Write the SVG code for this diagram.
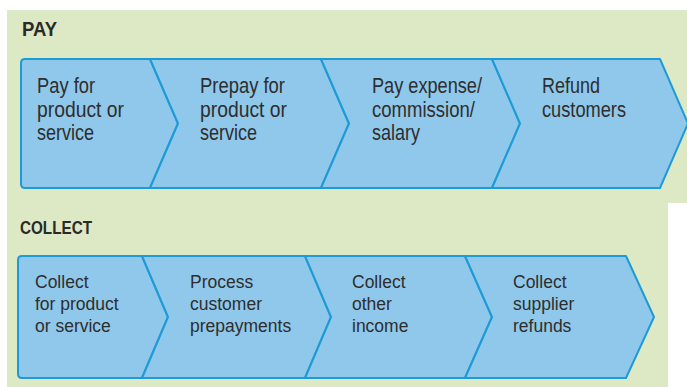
<svg xmlns="http://www.w3.org/2000/svg" width="687" height="387" viewBox="0 0 687 387">
<style>
.bg{fill:#dde9c4}
.node path{fill:#8fc8ea;stroke:#1e9ad6;stroke-width:2;stroke-linejoin:round}
.h{font-family:"Liberation Sans Narrow","Liberation Sans",Arial,sans-serif;font-weight:bold;fill:#2a2a2a}
.t1{font-family:"Liberation Sans",Arial,sans-serif;font-size:22px;fill:#2e2e2e}
.t2{font-family:"Liberation Sans",Arial,sans-serif;font-size:17.5px;fill:#2e2e2e}
</style>
<rect width="687" height="387" fill="#ffffff"/>
<rect class="bg" x="7" y="10" width="680" height="193"/>
<rect class="bg" x="7" y="202" width="661" height="185"/>
<text class="h" x="22" y="36" font-size="21" textLength="35" lengthAdjust="spacingAndGlyphs">PAY</text>
<text class="h" x="20" y="234" font-size="19" textLength="72" lengthAdjust="spacingAndGlyphs">COLLECT</text>

<g id="pay1" class="node">
<path d="M25,59 H150 L178,123.5 L150,188 H25 Q21,188 21,184 V63 Q21,59 25,59 Z"/>
<text class="t1" x="37" y="93" textLength="58" lengthAdjust="spacingAndGlyphs">Pay for</text>
<text class="t1" x="37" y="117" textLength="87" lengthAdjust="spacingAndGlyphs">product or</text>
<text class="t1" x="37" y="140" textLength="57" lengthAdjust="spacingAndGlyphs">service</text>
</g>
<g id="pay2" class="node">
<path d="M150,59 H321 L349,123.5 L321,188 H150 L178,123.5 Z"/>
<text class="t1" x="200" y="93" textLength="85" lengthAdjust="spacingAndGlyphs">Prepay for</text>
<text class="t1" x="200" y="117" textLength="87" lengthAdjust="spacingAndGlyphs">product or</text>
<text class="t1" x="200" y="140" textLength="57" lengthAdjust="spacingAndGlyphs">service</text>
</g>
<g id="pay3" class="node">
<path d="M321,59 H492 L520,123.5 L492,188 H321 L349,123.5 Z"/>
<text class="t1" x="372" y="93" textLength="110" lengthAdjust="spacingAndGlyphs">Pay expense/</text>
<text class="t1" x="372" y="117" textLength="103" lengthAdjust="spacingAndGlyphs">commission/</text>
<text class="t1" x="372" y="140" textLength="48" lengthAdjust="spacingAndGlyphs">salary</text>
</g>
<g id="pay4" class="node">
<path d="M492,59 H660 L688,123.5 L660,188 H492 L520,123.5 Z"/>
<text class="t1" x="542" y="93" textLength="58" lengthAdjust="spacingAndGlyphs">Refund</text>
<text class="t1" x="542" y="117" textLength="84" lengthAdjust="spacingAndGlyphs">customers</text>
</g>

<g id="collect1" class="node">
<path d="M22,256 H142 L168,317 L142,378 H22 Q18,378 18,374 V260 Q18,256 22,256 Z"/>
<text class="t2" x="35" y="288">Collect</text>
<text class="t2" x="35" y="310">for product</text>
<text class="t2" x="35" y="332">or service</text>
</g>
<g id="collect2" class="node">
<path d="M142,256 H305 L331,317 L305,378 H142 L168,317 Z"/>
<text class="t2" x="190" y="288">Process</text>
<text class="t2" x="190" y="310">customer</text>
<text class="t2" x="190" y="332">prepayments</text>
</g>
<g id="collect3" class="node">
<path d="M305,256 H465 L492,317 L465,378 H305 L331,317 Z"/>
<text class="t2" x="352" y="288">Collect</text>
<text class="t2" x="352" y="310">other</text>
<text class="t2" x="352" y="332">income</text>
</g>
<g id="collect4" class="node">
<path d="M465,256 H626 L654,317 L626,378 H465 L492,317 Z"/>
<text class="t2" x="513" y="288">Collect</text>
<text class="t2" x="513" y="310">supplier</text>
<text class="t2" x="513" y="332">refunds</text>
</g>
<g id="connectors"></g>
</svg>
